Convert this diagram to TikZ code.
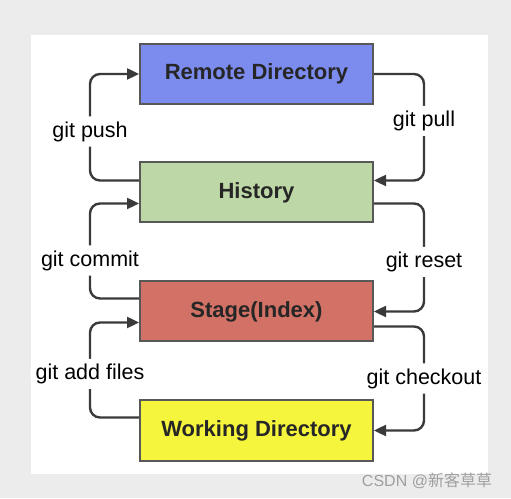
\documentclass[tikz,border=0pt]{standalone}
\usepackage{fontspec}
\setmainfont{Liberation Sans}
\newfontfamily\cjkfont{Noto Sans CJK SC}
\usetikzlibrary{arrows.meta}
\definecolor{remotecol}{HTML}{7B8BEE}
\definecolor{historycol}{HTML}{BED7A6}
\definecolor{stagecol}{HTML}{D27165}
\definecolor{workcol}{HTML}{F5F53E}
\definecolor{linecol}{HTML}{3A3A3A}
\begin{document}
\begin{tikzpicture}[x=1pt, y=1pt,
    area/.style={draw=linecol!85, line width=2pt, minimum width=233pt, minimum height=60pt,
      text=black!85, font=\fontsize{22}{24}\selectfont\bfseries},
    flow/.style={draw=linecol, line width=2.4pt, rounded corners=10pt, -{Triangle[length=12pt,width=11pt]}},
    cmd/.style={fill=white, inner sep=5pt, font=\fontsize{21.5}{24}\selectfont}]
            \fill[gray!15] (0,0) rectangle (511,498);
            \fill[white] (31,24) rectangle (488,463);
            \useasboundingbox (0,0) rectangle (511,498);
            % Boxes
            \node[area, fill=remotecol] (remote) at (256.5,424) {Remote Directory};
            \node[area, fill=historycol] (history) at (256.5,305.5) {History};
            \node[area, fill=stagecol] (stage) at (256.5,186.5) {Stage(Index)};
            \node[area, fill=workcol] (working) at (256.5,67.5) {Working Directory};
            % Left side, going up
            \draw[flow] ([yshift=12pt]history.west) -| ([xshift=-49pt]remote.west) node[cmd, pos=0.73] {git push} -- (remote.west);
            \draw[flow] ([yshift=13pt]stage.west) -| ([xshift=-49pt, yshift=-11pt]history.west) node[cmd, pos=0.7] {git commit} -- ([yshift=-11pt]history.west);
            \draw[flow] ([yshift=13pt]working.west) -| ([xshift=-49pt, yshift=-11pt]stage.west) node[cmd, pos=0.73] {git add files} -- ([yshift=-11pt]stage.west);
            % Right side, going down
            \draw[flow] (remote.east) -| ([xshift=50pt, yshift=12pt]history.east) node[cmd, pos=0.72] {git pull} -- ([yshift=12pt]history.east);
            \draw[flow] ([yshift=-11pt]history.east) -| ([xshift=50pt]stage.east) node[cmd, pos=0.77] {git reset} -- (stage.east);
            \draw[flow] ([yshift=-15pt]stage.east) -| ([xshift=50pt]working.east) node[cmd, pos=0.75] {git checkout} -- (working.east);
            % Watermark
            \node[text=gray!75, font=\fontsize{16}{18}\selectfont] (mark) at (427,17) {CSDN @{\cjkfont 新客草草}};
        \end{tikzpicture}
\end{document}
